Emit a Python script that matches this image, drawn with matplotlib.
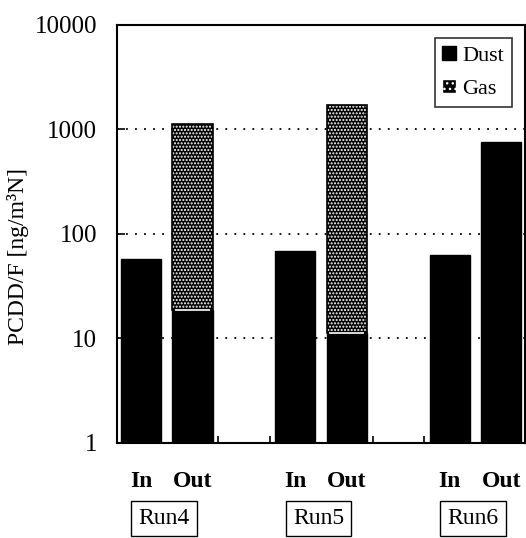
import matplotlib
matplotlib.use("Agg")
import matplotlib.pyplot as plt
from matplotlib.patches import Patch
import numpy as np

runs = ["Run4", "Run5", "Run6"]
sides = ["In", "Out"]
dust_in = [57, 69, 63]
dust_out = [18.7, 11.3, 760]
gas_out = [1110, 1690, 0]

plt.rcParams['font.family'] = ['Liberation Serif', 'DejaVu Serif']

fig = plt.figure(figsize=(5.26, 5.38), dpi=100)
ax = fig.add_axes([0.222, 0.1766, 0.776, 0.777])

group = np.arange(len(runs)) * 3
x_in = group
x_out = group + 1
w = 0.78

ax.set_yscale('log')
ax.set_ylim(1, 10000)
ax.set_xlim(-0.47, 7.46)

for v in [10, 100, 1000]:
    ax.axhline(v, color='black', lw=1.3, ls=(0, (1, 4)), zorder=0)

ax.bar(x_in, dust_in, width=w, color='black', edgecolor='black', lw=1, zorder=2)
ax.bar(x_out, dust_out, width=w, color='black', edgecolor='black', lw=1, zorder=2)
gas_x = [x for x, g in zip(x_out, gas_out) if g > 0]
gas_b = [d for d, g in zip(dust_out, gas_out) if g > 0]
gas_h = [g for g in gas_out if g > 0]
ax.bar(gas_x, gas_h, bottom=gas_b, width=w, color='black', edgecolor='white',
       lw=0, hatch='.....', zorder=2)
ax.bar(gas_x, gas_h, bottom=gas_b, width=w, color='none', edgecolor='black',
       lw=1.2, zorder=3)
# thin white seam between dust and gas parts
ax.hlines(gas_b, np.array(gas_x) - w / 2 + 0.05, np.array(gas_x) + w / 2 - 0.05,
          color='white', lw=1.2, zorder=4)

ax.set_yticks([1, 10, 100, 1000, 10000])
ax.set_yticklabels(['1', '10', '100', '1000', '10000'], fontsize=18)
ax.yaxis.set_minor_locator(matplotlib.ticker.NullLocator())
ax.tick_params(axis='y', direction='in', length=6, width=1.2, pad=14)

ax.set_xticks(list(x_in) + list(x_out))
ax.set_xticklabels(sides[:1] * 3 + sides[1:] * 3, fontsize=17, fontweight='bold')
ax.set_xticks([1.5, 2.5, 4.5, 5.5], minor=True)
ax.tick_params(axis='x', which='major', length=0, pad=20)
ax.tick_params(axis='x', which='minor', direction='in', length=5, width=1.2)

for g, r in zip(group, runs):
    ax.text(g + 0.45, -0.18, r, transform=ax.get_xaxis_transform(), ha='center',
            va='center', fontsize=17,
            bbox=dict(boxstyle='square,pad=0.3', facecolor='white',
                      edgecolor='black', lw=1))

for s in ax.spines.values():
    s.set_linewidth(1.5)

ax.set_ylabel('PCDD/F [ng/m³N]', fontsize=17)
ax.yaxis.set_label_coords(-0.215, 0.445)

handles = [Patch(facecolor='black', edgecolor='black', label='Dust'),
           Patch(facecolor='black', edgecolor='white', hatch='...', label='Gas')]
leg = ax.legend(handles=handles, loc='upper right', bbox_to_anchor=(0.968, 0.968),
                fontsize=16, frameon=True, fancybox=False, edgecolor='black',
                handlelength=0.6, handleheight=0.6, handletextpad=0.3,
                borderpad=0.35, labelspacing=0.6, borderaxespad=0)
leg.get_frame().set_linewidth(1.2)

fig.savefig('out.png', dpi=100)
